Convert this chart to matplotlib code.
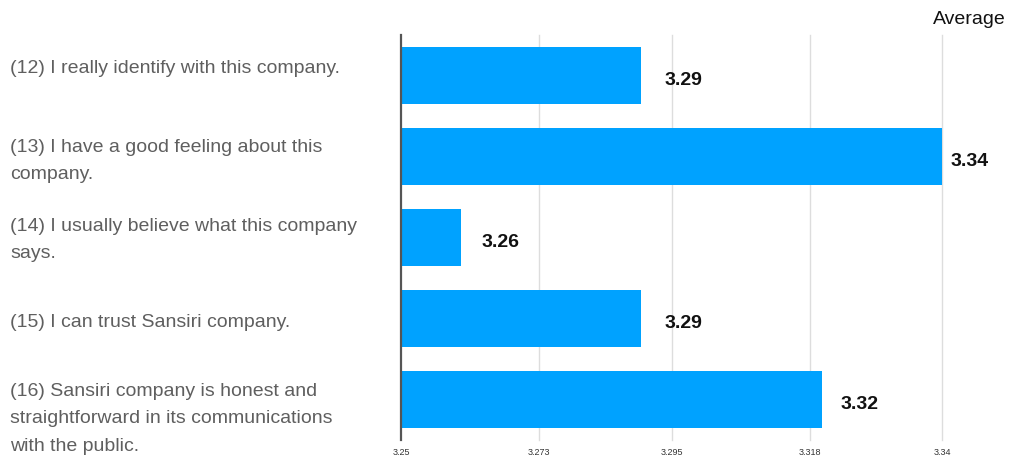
import matplotlib
matplotlib.use("Agg")
import matplotlib.pyplot as plt
from matplotlib.transforms import blended_transform_factory, offset_copy

plt.rcParams['font.family'] = ['Liberation Sans', 'DejaVu Sans']

statements = [
    "(12) I really identify with this company.",
    "(13) I have a good feeling about this\ncompany.",
    "(14) I usually believe what this company\nsays.",
    "(15) I can trust Sansiri company.",
    "(16) Sansiri company is honest and\nstraightforward in its communications\nwith the public.",
]
averages = [3.29, 3.34, 3.26, 3.29, 3.32]
tick_values = [3.25, 3.273, 3.295, 3.318, 3.34]
tick_labels = ["3.25", "3.273", "3.295", "3.318", "3.34"]
series_name = "Average"

# vertical nudges (points) for the statement labels
label_nudge = [5, -3, -2, -3, -14]
# horizontal gap (pixels) between a bar end and its value label
value_gap = [23, 9, 20, 23, 19]

fig = plt.figure(figsize=(10.10, 4.59), dpi=100)
ax = fig.add_axes([401 / 1010, 19 / 459, 541 / 1010, 405 / 459])

y = list(range(len(statements)))
ax.barh(y, [v - tick_values[0] for v in averages], left=tick_values[0],
        height=0.70, color="#00a2ff", zorder=3)

ax.set_xlim(tick_values[0], tick_values[-1])
ax.set_ylim(len(statements) - 0.5, -0.5)

ax.set_xticks(tick_values)
ax.set_xticklabels(tick_labels, fontsize=6.5, color="#333333")
ax.tick_params(axis="x", length=0, pad=6)
ax.set_yticks([])

for v in tick_values[1:]:
    ax.axvline(v, color="#dddddd", linewidth=1, zorder=1, clip_on=False)

for side in ["top", "right", "bottom"]:
    ax.spines[side].set_visible(False)
ax.spines["left"].set_color("#555555")
ax.spines["left"].set_linewidth(1.6)
ax.spines["left"].set_zorder(4)

# value labels beside each bar
for yi, v, gap in zip(y, averages, value_gap):
    ax.annotate(f"{v:.2f}", xy=(v, yi), xytext=(gap * 0.72, -3.5),
                textcoords="offset points", va="center", ha="left",
                fontsize=14, fontweight="bold", color="#111111")

# statement labels on the left
trans = blended_transform_factory(fig.transFigure, ax.transData)
for yi, text, dy in zip(y, statements, label_nudge):
    t = offset_copy(trans, fig=fig, x=0, y=dy, units="points")
    fig.text(10 / 1010, yi, text, transform=t, ha="left", va="center",
             fontsize=14, color="#5f5f5f", linespacing=1.78)

fig.text(1006 / 1010, 1 - 20 / 459, series_name, ha="right", va="center",
         fontsize=14, color="#111111")

fig.savefig("out.png", dpi=100)
